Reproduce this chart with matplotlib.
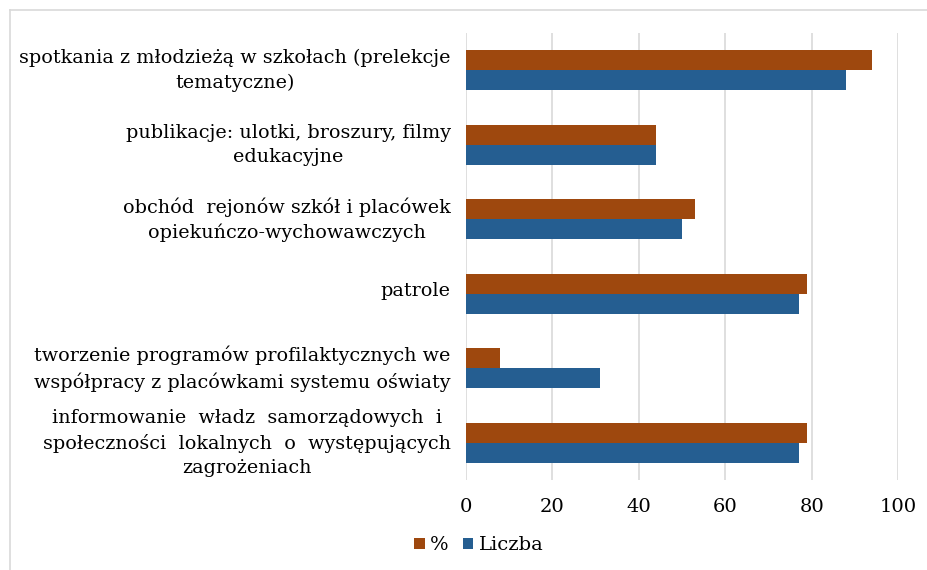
import matplotlib.pyplot as plt
import matplotlib.transforms as mtransforms
import numpy as np
from matplotlib.lines import Line2D

plt.rcParams['font.family'] = ['DejaVu Serif']

categories = [
    'spotkania z młodzieżą w szkołach (prelekcje\ntematyczne)',
    'publikacje: ulotki, broszury, filmy\nedukacyjne',
    'obchód  rejonów szkół i placówek\nopiekuńczo-wychowawczych',
    'patrole',
    'tworzenie programów profilaktycznych we\nwspółpracy z placówkami systemu oświaty',
    'informowanie  władz  samorządowych  i\nspołeczności  lokalnych  o  występujących\nzagrożeniach',
]
procent = [94, 44, 53, 79, 8, 79]
liczba = [88, 44, 50, 77, 31, 77]

c_proc = '#9E480E'
c_licz = '#255E91'

fig = plt.figure(figsize=(9.28, 5.70), dpi=100)
ax = fig.add_axes([0.502, 0.158, 0.466, 0.784])

y = np.arange(len(categories))
h = 0.27
ax.barh(y - h / 2, procent, height=h, color=c_proc, label='%', zorder=3)
ax.barh(y + h / 2, liczba, height=h, color=c_licz, label='Liczba', zorder=3)

ax.set_ylim(len(categories) - 0.5, -0.5)
ax.set_xlim(0, 100)
ax.set_xticks(range(0, 101, 20))
ax.set_yticks(y)
ax.set_yticklabels(categories, multialignment='center', fontsize=13.8,
                   linespacing=1.45)
ax.tick_params(axis='both', length=0)
ax.tick_params(axis='x', labelsize=14, pad=13)
ax.tick_params(axis='y', pad=11)
ax.grid(axis='x', color='#D9D9D9', linewidth=1.2, zorder=0)
for s in ax.spines.values():
    s.set_visible(False)

# shift category labels slightly up
shift = mtransforms.ScaledTranslation(0, 5 / 100, fig.dpi_scale_trans)
for lab in ax.get_yticklabels():
    lab.set_transform(lab.get_transform() + shift)

handles, labels = ax.get_legend_handles_labels()
fig.legend(handles, labels, loc='center', bbox_to_anchor=(0.516, 0.043), ncol=2,
           frameon=False, fontsize=14, handlelength=0.55, handleheight=0.55,
           handletextpad=0.3, columnspacing=0.7)

# light grey frame (top and left edge visible)
fig.lines.append(Line2D([10 / 928, 1], [1 - 10 / 570, 1 - 10 / 570],
                        transform=fig.transFigure, color='#D9D9D9', linewidth=1.2))
fig.lines.append(Line2D([10 / 928, 10 / 928], [0, 1 - 10 / 570],
                        transform=fig.transFigure, color='#D9D9D9', linewidth=1.2))

fig.savefig('out.png', dpi=100)
